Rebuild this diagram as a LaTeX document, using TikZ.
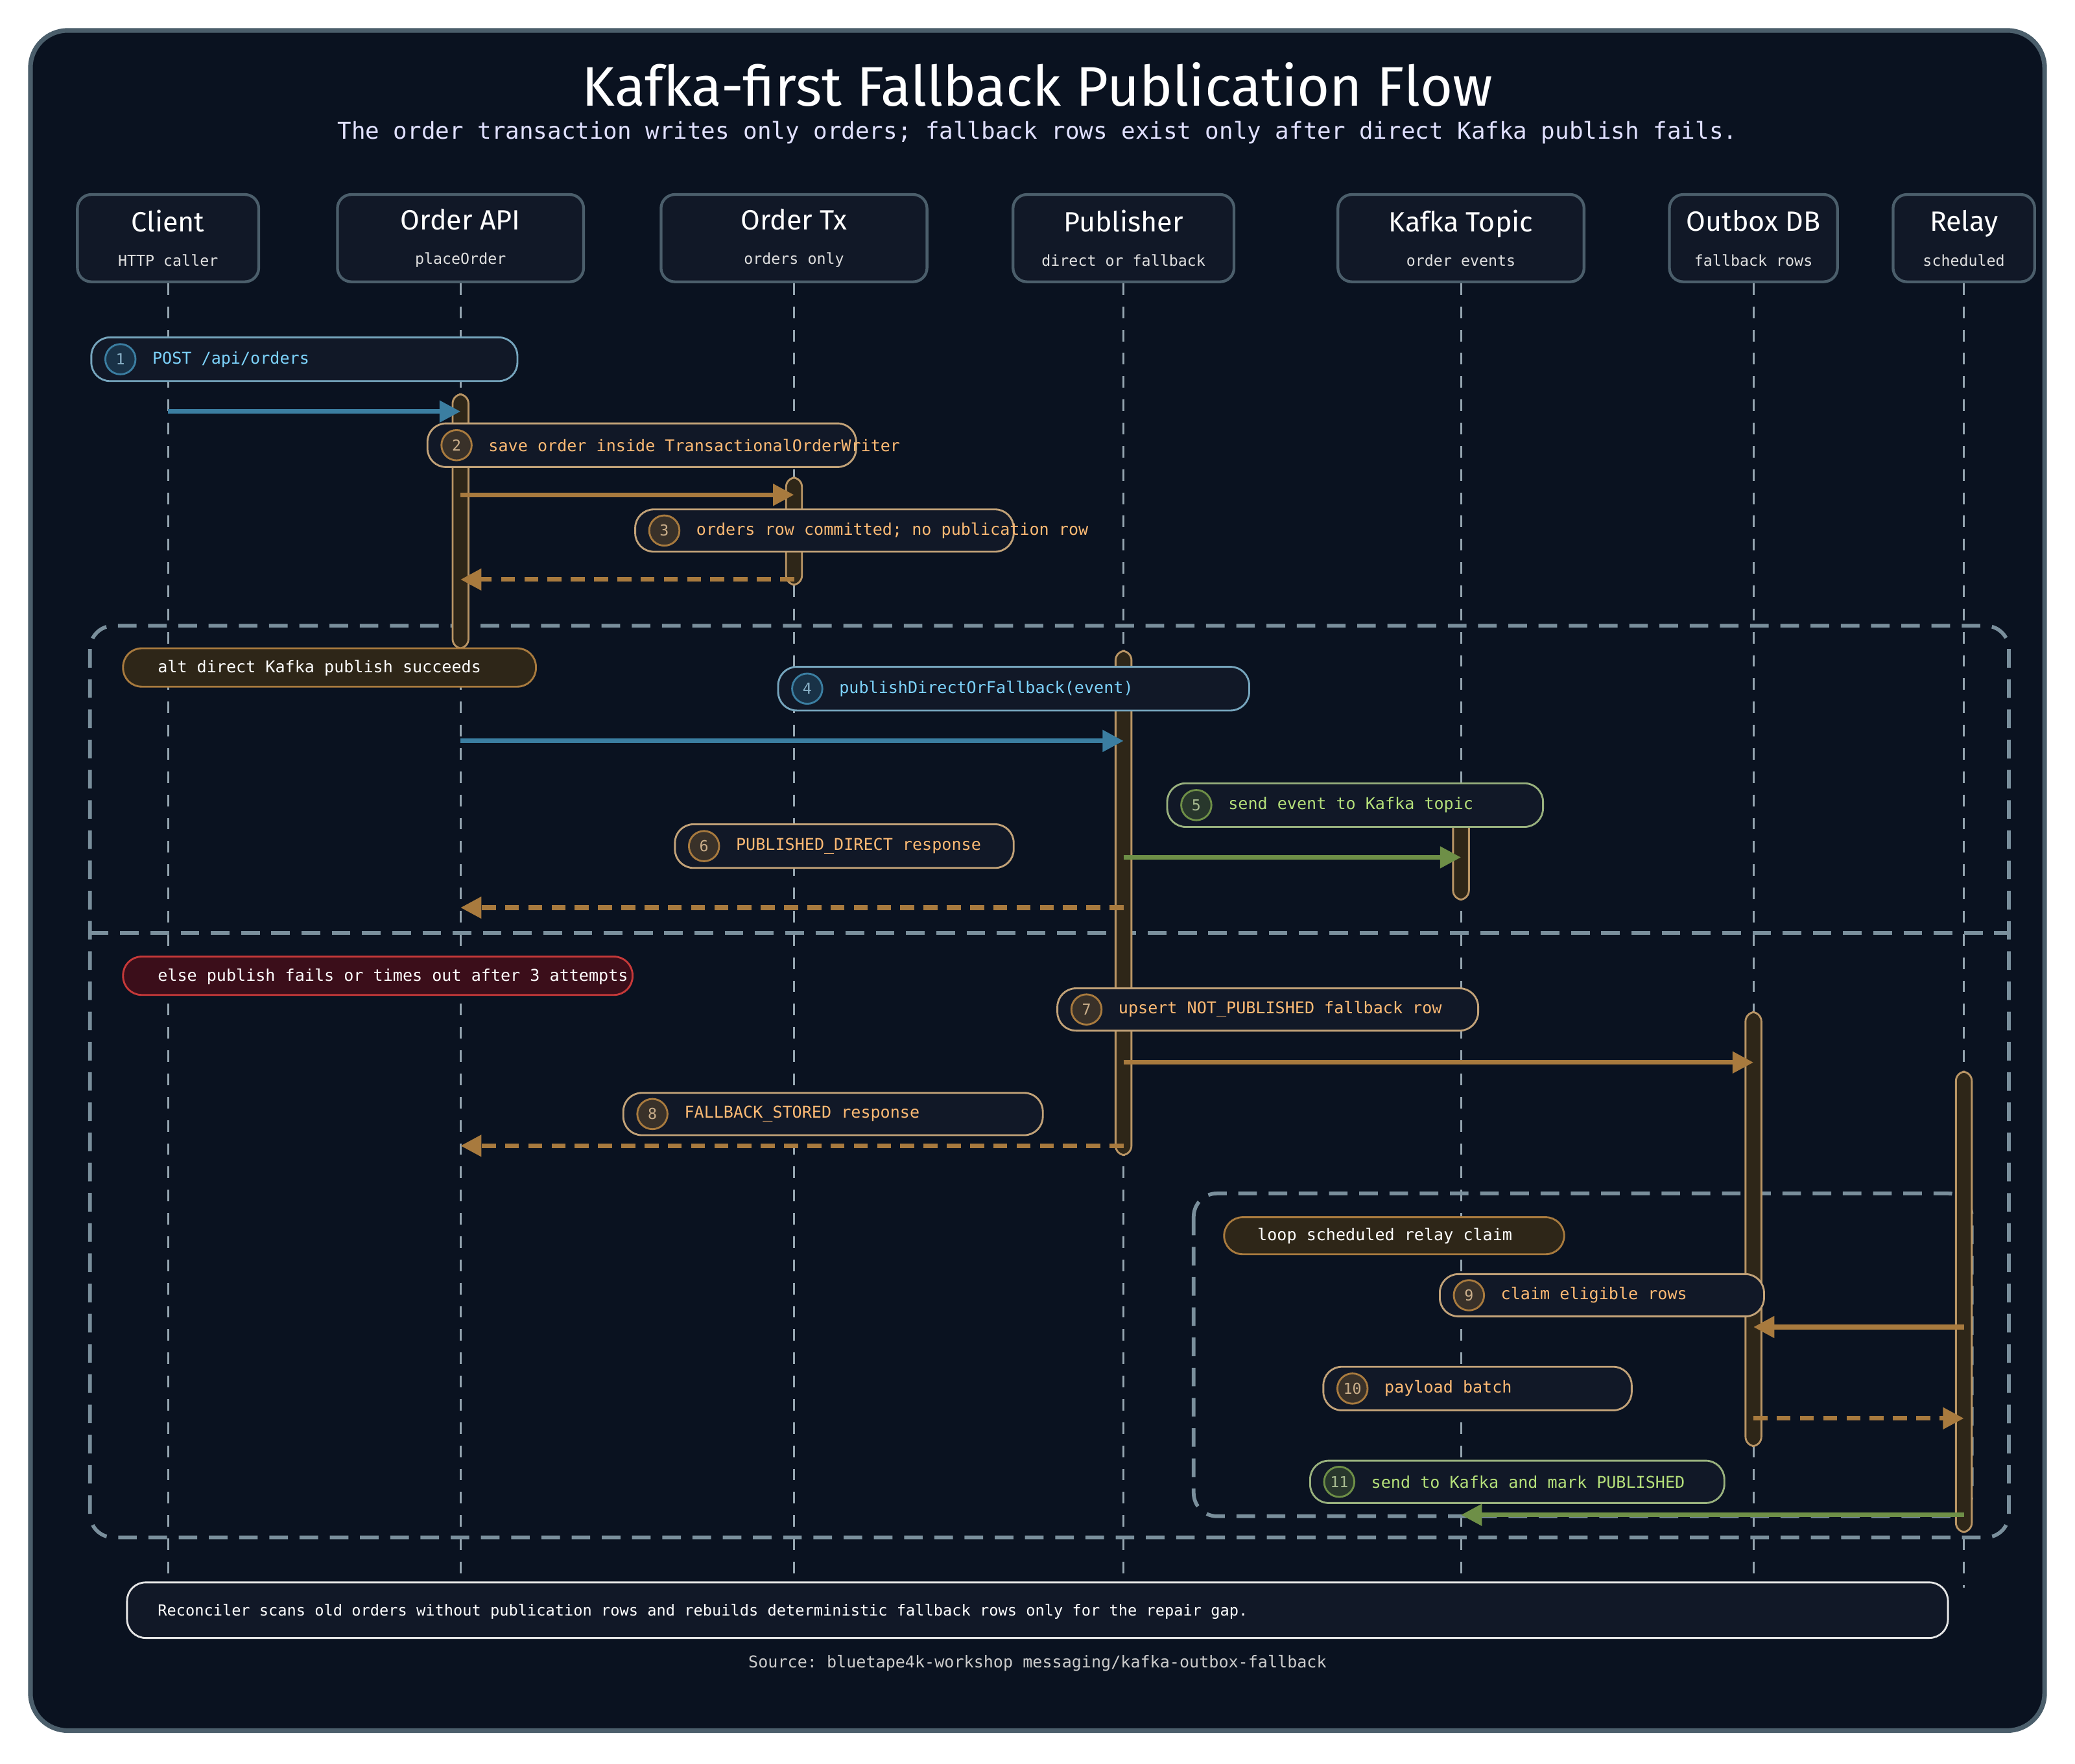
\documentclass[tikz,border=0pt]{standalone}
\usepackage{fontspec}
\setmainfont{Fira Sans}
\setmonofont{DejaVu Sans Mono}
\usetikzlibrary{positioning,arrows.meta,shapes}
\definecolor{bgdark}{HTML}{0A1220}
\definecolor{panel}{HTML}{111827}
\definecolor{edge}{HTML}{4B5E6B}
\definecolor{frameline}{HTML}{7A8F9C}
\definecolor{msgblue}{HTML}{3B7EA1}
\definecolor{txtblue}{HTML}{7DD3FC}
\definecolor{msgorange}{HTML}{A87A3E}
\definecolor{txtorange}{HTML}{FDBA74}
\definecolor{msggreen}{HTML}{6E8F47}
\definecolor{txtgreen}{HTML}{B5E07A}
\definecolor{actfill}{HTML}{2E2618}
\tikzset{
  head/.style={draw=edge, very thick, rounded corners=6pt, fill=panel, align=center, inner sep=0pt},
  life/.style={draw=frameline!80, thick, dash pattern=on 5pt off 5pt},
  act/.style={draw=msgorange!80, fill=actfill, thick, rounded corners=4pt},
  pill/.style={draw=#1, fill=panel, thick, rounded corners=8pt},
  num/.style={circle, draw=#1, fill=#1!30!bgdark, thick, minimum size=13pt, inner sep=0pt, font=\ttfamily\fontsize{6.5}{7}\selectfont},
  msg/.style={draw=#1, line width=2pt, -{Triangle[length=9pt,width=9pt]}},
  ret/.style={msg=#1, dash pattern=on 6pt off 4pt},
  frame/.style={draw=frameline, line width=1.6pt, dash pattern=on 8pt off 5pt, rounded corners=10pt},
  tag/.style={thick, rounded corners=8pt},
  lbl/.style={font=\ttfamily\fontsize{7}{8}\selectfont},
}
\newcommand\msgpill[7]{% x1,y1,x2,y2,colour,number,text
  \draw[pill=#5!70!white] (#1,#2) rectangle (#3,#4);
  \node[num=#5, text=#5!60!white] at ({#1+22},{(#2+#4)/2}) {#6};
  \node[anchor=west, lbl, text=#7] at ({#1+40},{(#2+#4)/2})}
\begin{document}
\begin{tikzpicture}[x=0.02cm,y=-0.02cm]
  \path[use as bounding box, fill=white] (0,0) rectangle (1568,1333);
  \draw[fill=bgdark, draw=edge, line width=2pt, rounded corners=16pt] (23,23) rectangle (1545,1308);

  \node[font=\fontsize{24}{28}\selectfont, text=white] (title) at (784,64) {Kafka-first Fallback Publication Flow};
  \node[font=\ttfamily\fontsize{10}{12}\selectfont, text=white!88!blue] (subtitle) at (784,100) {The order transaction writes only orders; fallback rows exist only after direct Kafka publish fails.};

  % lifelines
  \foreach \name/\x/\w/\top/\sub in {client/127/137/Client/HTTP caller, api/348/186/Order API/placeOrder,
      tx/600/201/Order Tx/orders only, pub/849/167/Publisher/direct or fallback,
      kafka/1104/186/Kafka Topic/order events, outbox/1325/127/Outbox DB/fallback rows,
      relay/1484/107/Relay/scheduled} {
    \node[head, minimum width=\w*0.02cm, minimum height=66*0.02cm] (\name) at (\x,180)
      {{\color{white}\large\top}\\[3pt]{\ttfamily\fontsize{6.5}{7}\selectfont\color{white!75!gray}\sub}};
    \coordinate (\name end) at (\x,1200);
    \draw[life] (\name) -- (\name end);
  }

  % frames
  \draw[frame] (68,473) rectangle (1518,1162);
  \draw[frame] (68,705) -- (1518,705);
  \draw[frame] (902,902) rectangle (1490,1146);

  % activations
  \draw[act] (342,298) rectangle (354,490);
  \draw[act] (594,361) rectangle (606,442);
  \draw[act] (843,492) rectangle (855,873);
  \draw[act] (1098,617) rectangle (1110,680);
  \draw[act] (1319,765) rectangle (1331,1093);
  \draw[act] (1478,810) rectangle (1490,1158);

  % tags
  \draw[tag, draw=msgorange, fill=actfill] (93,490) rectangle (405,519);
  \node[anchor=west, lbl, text=white] (alttag) at (113,505) {alt direct Kafka publish succeeds};
  \draw[tag, draw=red!55!gray, fill=red!20!bgdark] (93,723) rectangle (478,752);
  \node[anchor=west, lbl, text=white] (elsetag) at (113,738) {else publish fails or times out after 3 attempts};
  \draw[tag, draw=msgorange, fill=actfill] (925,920) rectangle (1182,948);
  \node[anchor=west, lbl, text=white] (looptag) at (944,934) {loop scheduled relay claim};

  % messages
  \msgpill{69}{255}{391}{288}{msgblue}{1}{txtblue} (m1) {POST /api/orders};
  \coordinate (a1) at (127,311); \coordinate (b1) at (348,311);
  \draw[msg=msgblue] (a1) -- (b1);

  \msgpill{323}{320}{647}{353}{msgorange}{2}{txtorange} (m2) {save order inside TransactionalOrderWriter};
  \coordinate (a2) at (348,374); \coordinate (b2) at (600,374);
  \draw[msg=msgorange] (a2) -- (b2);

  \msgpill{480}{385}{766}{417}{msgorange}{3}{txtorange} (m3) {orders row committed; no publication row};
  \coordinate (a3) at (600,438); \coordinate (b3) at (348,438);
  \draw[ret=msgorange] (a3) -- (b3);

  \msgpill{588}{504}{944}{537}{msgblue}{4}{txtblue} (m4) {publishDirectOrFallback(event)};
  \coordinate (a4) at (348,560); \coordinate (b4) at (849,560);
  \draw[msg=msgblue] (a4) -- (b4);

  \msgpill{882}{592}{1166}{625}{msggreen}{5}{txtgreen} (m5) {send event to Kafka topic};
  \coordinate (a5) at (849,648); \coordinate (b5) at (1104,648);
  \draw[msg=msggreen] (a5) -- (b5);

  \msgpill{510}{623}{766}{656}{msgorange}{6}{txtorange} (m6) {PUBLISHED\_DIRECT response};
  \coordinate (a6) at (849,686); \coordinate (b6) at (348,686);
  \draw[ret=msgorange] (a6) -- (b6);

  \msgpill{799}{747}{1117}{779}{msgorange}{7}{txtorange} (m7) {upsert NOT\_PUBLISHED fallback row};
  \coordinate (a7) at (849,803); \coordinate (b7) at (1325,803);
  \draw[msg=msgorange] (a7) -- (b7);

  \msgpill{471}{826}{788}{858}{msgorange}{8}{txtorange} (m8) {FALLBACK\_STORED response};
  \coordinate (a8) at (849,866); \coordinate (b8) at (348,866);
  \draw[ret=msgorange] (a8) -- (b8);

  \msgpill{1088}{963}{1333}{995}{msgorange}{9}{txtorange} (m9) {claim eligible rows};
  \coordinate (a9) at (1484,1003); \coordinate (b9) at (1325,1003);
  \draw[msg=msgorange] (a9) -- (b9);

  \msgpill{1000}{1033}{1233}{1066}{msgorange}{10}{txtorange} (m10) {payload batch};
  \coordinate (a10) at (1325,1072); \coordinate (b10) at (1484,1072);
  \draw[ret=msgorange] (a10) -- (b10);

  \msgpill{990}{1104}{1303}{1136}{msggreen}{11}{txtgreen} (m11) {send to Kafka and mark PUBLISHED};
  \coordinate (a11) at (1484,1145); \coordinate (b11) at (1104,1145);
  \draw[msg=msggreen] (a11) -- (b11);

  % footer
  \draw[fill=panel, draw=white!80!gray, thick, rounded corners=8pt] (96,1196) rectangle (1472,1238);
  \node[anchor=west, font=\ttfamily\fontsize{6.6}{8}\selectfont, text=white] (note) at (113,1218) {Reconciler scans old orders without publication rows and rebuilds deterministic fallback rows only for the repair gap.};
  \node[lbl, text=white!60!gray] (source) at (784,1257) {Source: bluetape4k-workshop messaging/kafka-outbox-fallback};
\end{tikzpicture}
\end{document}
